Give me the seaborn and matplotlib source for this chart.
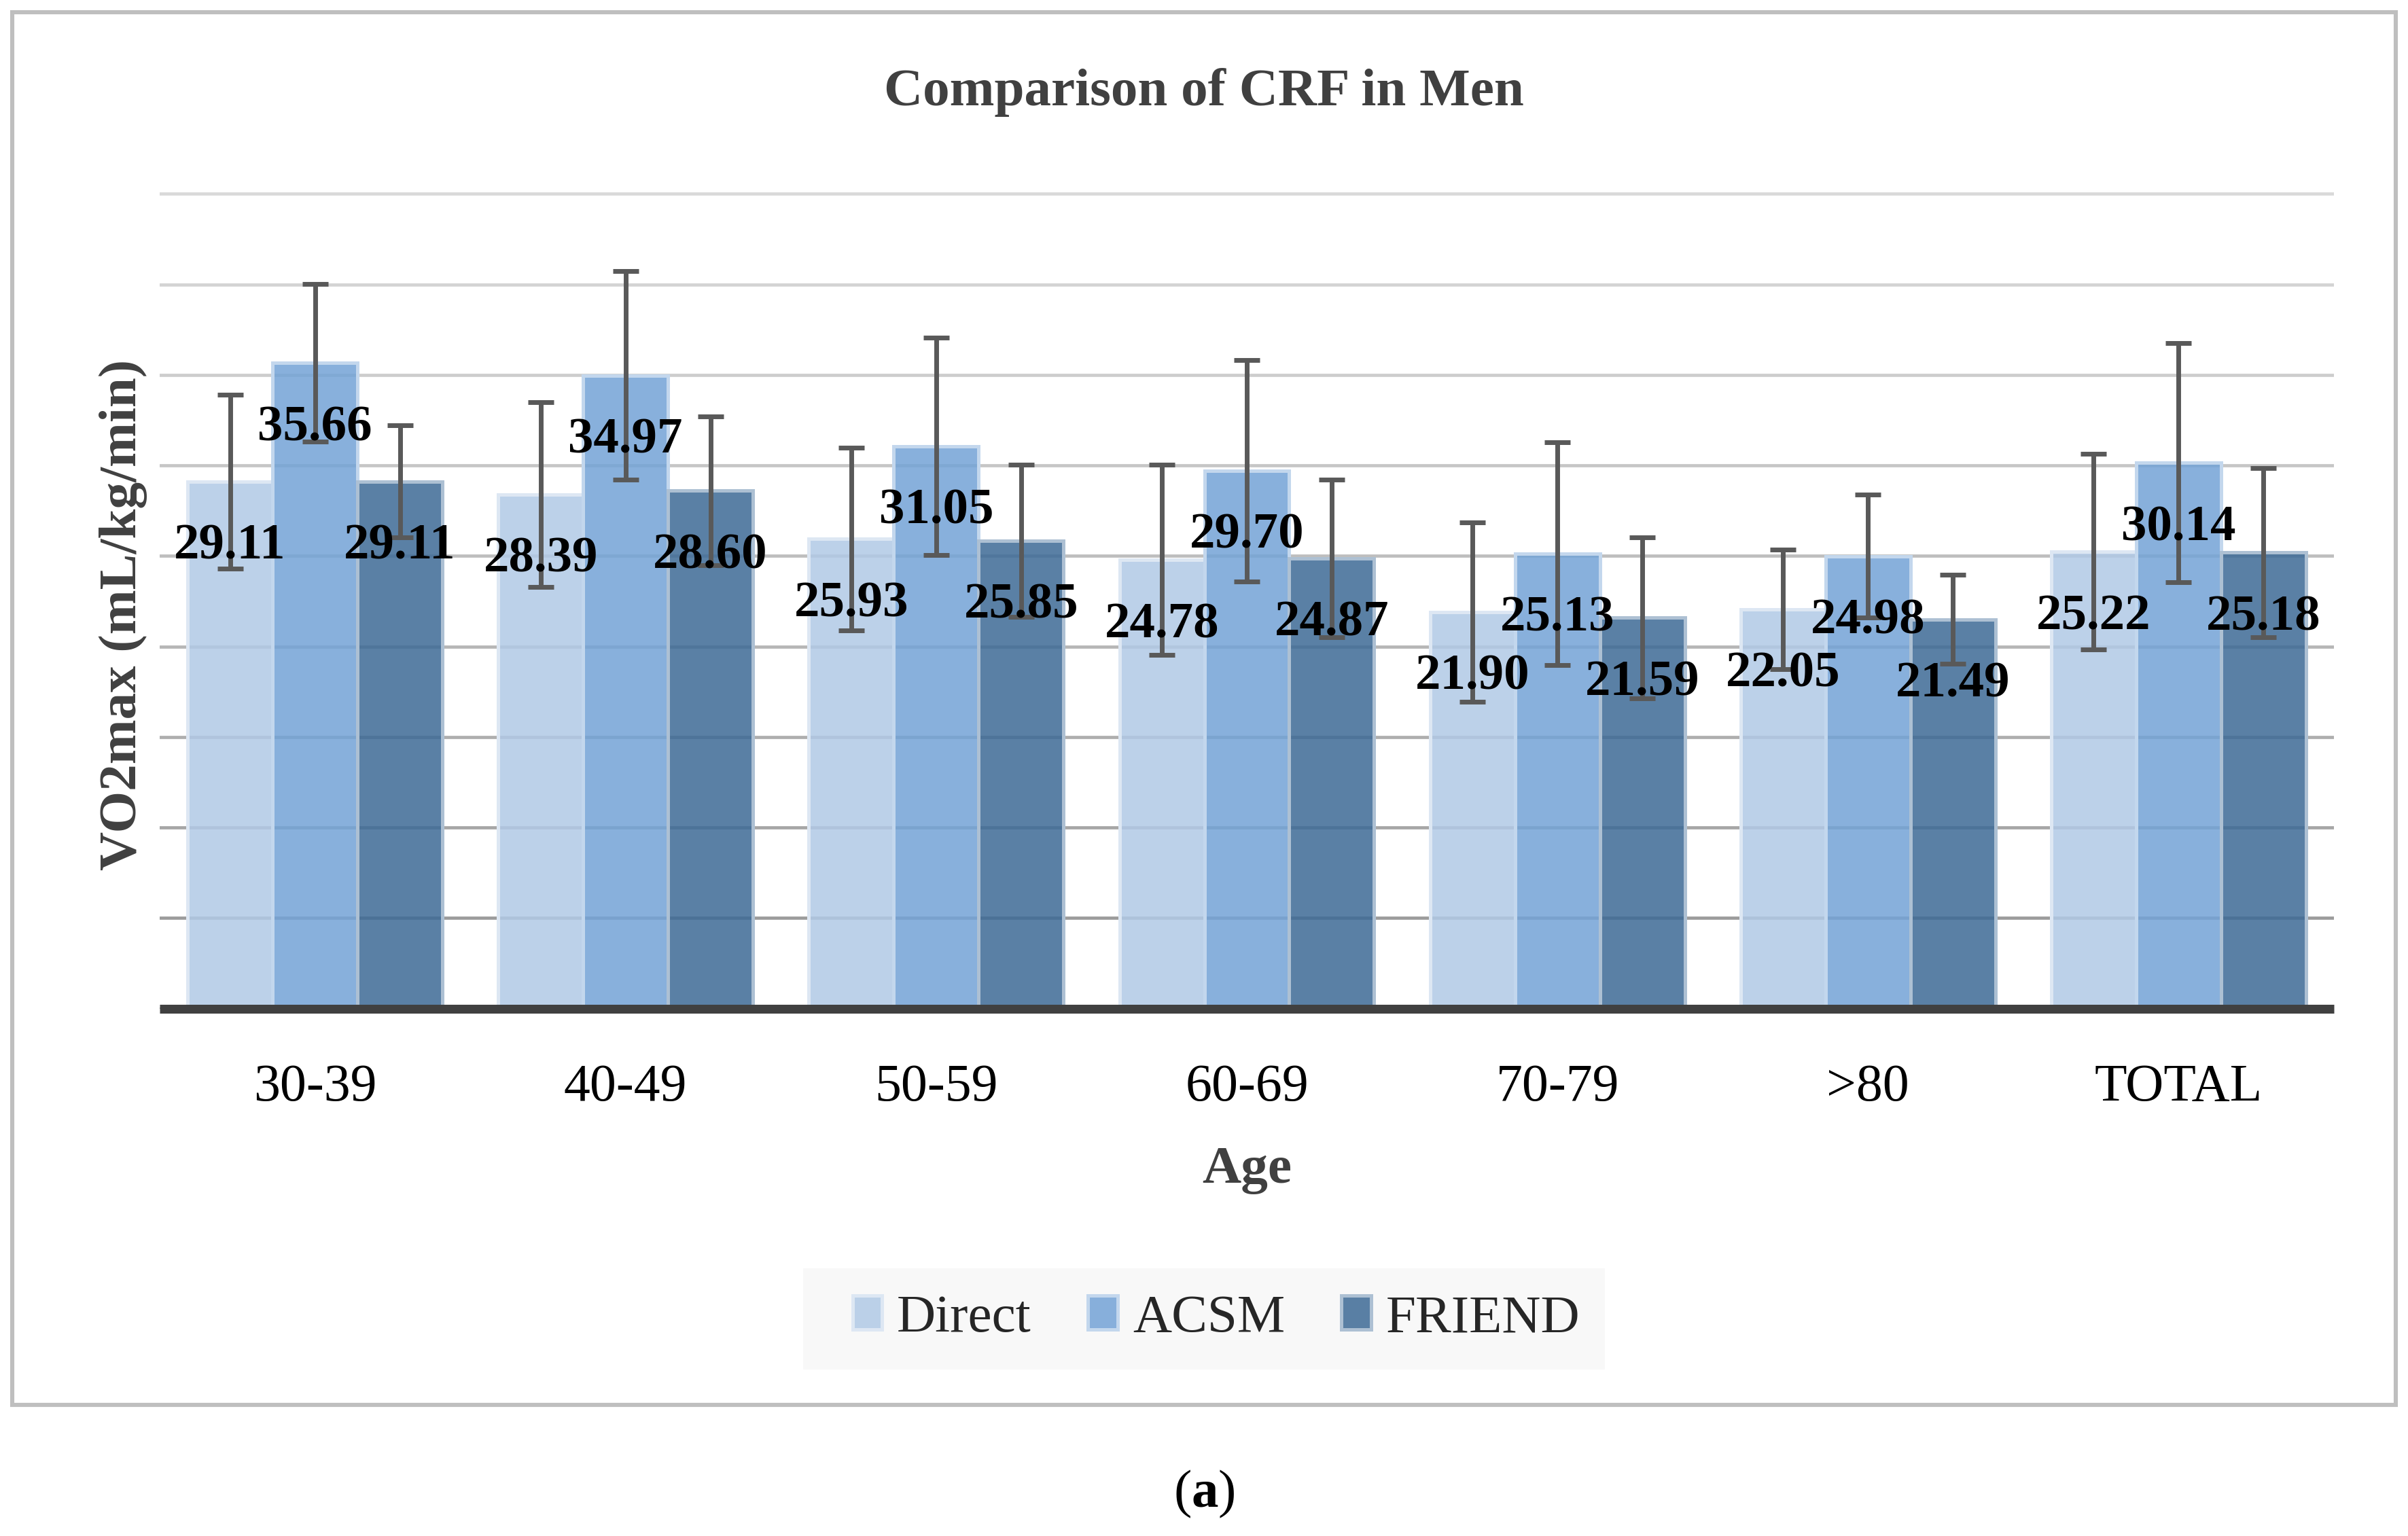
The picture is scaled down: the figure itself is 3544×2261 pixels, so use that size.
import matplotlib
matplotlib.use("Agg")
import matplotlib.pyplot as plt
import seaborn as sns
import pandas as pd
import numpy as np
from matplotlib.patches import Rectangle, Patch

# ---------------- data ----------------
ages = ["30-39", "40-49", "50-59", "60-69", "70-79", ">80", "TOTAL"]
methods = ["Direct", "ACSM", "FRIEND"]
direct = [29.11, 28.39, 25.93, 24.78, 21.90, 22.05, 25.22]
acsm = [35.66, 34.97, 31.05, 29.70, 25.13, 24.98, 30.14]
friend = [29.11, 28.60, 25.85, 24.87, 21.59, 21.49, 25.18]
direct_sd = [4.8, 5.1, 5.05, 5.25, 4.95, 3.3, 5.4]
acsm_sd = [4.35, 5.75, 6.0, 6.1, 6.15, 3.4, 6.6]
friend_sd = [3.1, 4.1, 4.2, 4.35, 4.45, 2.45, 4.67]

values = {"Direct": direct, "ACSM": acsm, "FRIEND": friend}
sds = {"Direct": direct_sd, "ACSM": acsm_sd, "FRIEND": friend_sd}

df = pd.DataFrame({
    "Age": np.repeat([ages], 3, axis=0).ravel(),
    "Method": np.repeat(methods, len(ages)),
    "VO2max": direct + acsm + friend,
})

# ---------------- style ----------------
sns.set_theme(style="white")
plt.rcParams["font.family"] = ["Liberation Serif", "DejaVu Serif"]
plt.rcParams["mathtext.fontset"] = "custom"
plt.rcParams["mathtext.rm"] = "Liberation Serif"
plt.rcParams["mathtext.bf"] = "Liberation Serif:bold"

ALPHA = 0.85
face_base = {"Direct": "#b1c9e6", "ACSM": "#73a3d6", "FRIEND": "#3d6a96"}
edge_cols = {"Direct": "#dde7f3", "ACSM": "#c3d7ed", "FRIEND": "#adc0d3"}
grid_cols = ["#a0a0a0", "#9c9c9c", "#a6a6a6", "#aeaeae", "#b6b6b6",
             "#bebebe", "#c6c6c6", "#cdcdcd", "#d3d3d3", "#d9d9d9"]

W, H, DPI = 3544, 2261, 200
fig = plt.figure(figsize=(W / DPI, H / DPI), dpi=DPI)
fig.patch.set_facecolor("white")

y0_px, y45_px, ymax = 1484.5, 285.25, 45.3
unit = (y0_px - y45_px) / 45.0
top_px = y0_px - unit * ymax
left_px, right_px = 235, 3435
ax = fig.add_axes([left_px / W, 1 - y0_px / H, (right_px - left_px) / W,
                   (y0_px - top_px) / H])

sns.barplot(data=df, x="Age", y="VO2max", hue="Method", order=ages,
            hue_order=methods, palette=face_base, width=0.82,
            errorbar=None, legend=False, ax=ax, zorder=2)

xs, ys, es = [], [], []
for cont, m in zip(ax.containers, methods):
    bars = sorted(list(cont), key=lambda b: b.get_x())
    rgb = matplotlib.colors.to_rgb(face_base[m])
    for i, bar in enumerate(bars):
        bar.set_facecolor((*rgb, ALPHA))
        bar.set_edgecolor(edge_cols[m])
        bar.set_linewidth(1.8)
        xc = bar.get_x() + bar.get_width() / 2
        h = bar.get_height()
        xs.append(xc)
        ys.append(h)
        es.append(sds[m][i])
        ax.text(xc, h - 3.6, f"{h:.2f}", ha="center", va="center",
                fontsize=27, fontweight="bold", color="black", zorder=5)

ax.errorbar(xs, ys, yerr=es, fmt="none", ecolor="#595959", elinewidth=2.5,
            capsize=7, capthick=2.5, zorder=4)

ax.set_xlim(-0.5, len(ages) - 0.5)
ax.set_ylim(0, ymax)
ax.set_yticks(np.arange(0, 50, 5))
ax.yaxis.grid(True, linewidth=1.7)
ax.xaxis.grid(False)
ax.set_axisbelow(True)
for gl, c in zip(ax.get_ygridlines(), grid_cols):
    gl.set_color(c)
ax.tick_params(axis="y", length=0, labelleft=False)
ax.tick_params(axis="x", length=0, pad=29, labelsize=28, labelcolor="black")

for s in ["left", "top", "right"]:
    ax.spines[s].set_visible(False)
ax.spines["bottom"].set_color("#404040")
ax.spines["bottom"].set_linewidth(4.7)
ax.spines["bottom"].set_capstyle("butt")
ax.spines["bottom"].set_zorder(6)

ax.set_ylabel("VO2max (mL/kg/min)", fontsize=28.5, fontweight="bold",
              color="#404040")
ax.yaxis.label.set_va("center")
ax.yaxis.set_label_coords((181 - left_px) / (right_px - left_px), 0.48)
ax.set_xlabel("Age", fontsize=28.5, fontweight="bold", color="#404040")
ax.xaxis.label.set_va("center")
ax.xaxis.set_label_coords(0.5, -(1722 - y0_px) / (y0_px - top_px))

fig.text(0.5, 1 - 136 / H, "Comparison of CRF in Men", ha="center",
         va="center", fontsize=28.5, fontweight="bold", color="#404040")

# legend background + legend
fig.patches.append(Rectangle((1182 / W, 1 - 2016 / H), 1180 / W, 149 / H,
                             transform=fig.transFigure, facecolor="#f8f8f8",
                             edgecolor="none", zorder=0))
handles = [Patch(facecolor=(*matplotlib.colors.to_rgb(face_base[m]), ALPHA),
                 edgecolor=edge_cols[m], linewidth=1.8) for m in methods]
fig.legend(handles, methods, loc="center",
           bbox_to_anchor=(0.5 + 18 / W, 1 - 1941.5 / H),
           ncol=3, frameon=False, fontsize=28.5, handlelength=0.55,
           handleheight=0.6, handletextpad=0.28, columnspacing=1.05)

# outer frame
fig.patches.append(Rectangle((18 / W, 1 - 2068 / H), (3526 - 18) / W,
                             (2068 - 18) / H, transform=fig.transFigure,
                             facecolor="none", edgecolor="#bfbfbf",
                             linewidth=2.2, zorder=0))

fig.text(0.5, 1 - 2199 / H, r"($\mathbf{a}$)", ha="center", va="center",
         fontsize=28.5, color="black")

fig.savefig("out.png", dpi=DPI)
